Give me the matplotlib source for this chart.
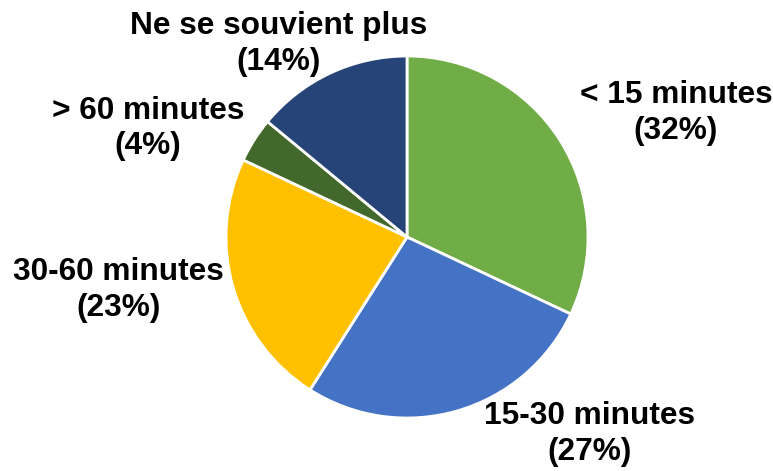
import matplotlib.pyplot as plt

categories = ["< 15 minutes", "15-30 minutes", "30-60 minutes", "> 60 minutes", "Ne se souvient plus"]
values = [32, 27, 23, 4, 14]
colors = ["#70AD47", "#4472C4", "#FFC000", "#43682B", "#264478"]
# label centres, in pie-radius units
label_pos = [(1.486, 0.685), (1.008, -1.09), (-1.594, -0.293), (-1.43, 0.60), (-0.707, 1.065)]

plt.rcParams['font.family'] = ['Liberation Sans', 'DejaVu Sans']

fig = plt.figure(figsize=(7.73, 4.71), dpi=100)
W, H = 773, 471
cx, cy, r = 407, 471 - 237, 181
ax = fig.add_axes([(cx - r) / W, (cy - r) / H, 2 * r / W, 2 * r / H])
ax.pie(values, colors=colors, startangle=90, counterclock=False, radius=1,
       wedgeprops=dict(edgecolor="white", linewidth=2))
ax.set_xlim(-1, 1)
ax.set_ylim(-1, 1)
ax.set_aspect("equal")
ax.axis("off")

for cat, v, (x, y) in zip(categories, values, label_pos):
    ax.text(x, y, f"{cat}\n({v}%)", ha="center", va="center", fontsize=22.8,
            fontweight="bold", linespacing=1.25, clip_on=False)

fig.savefig("out.png", dpi=100)
